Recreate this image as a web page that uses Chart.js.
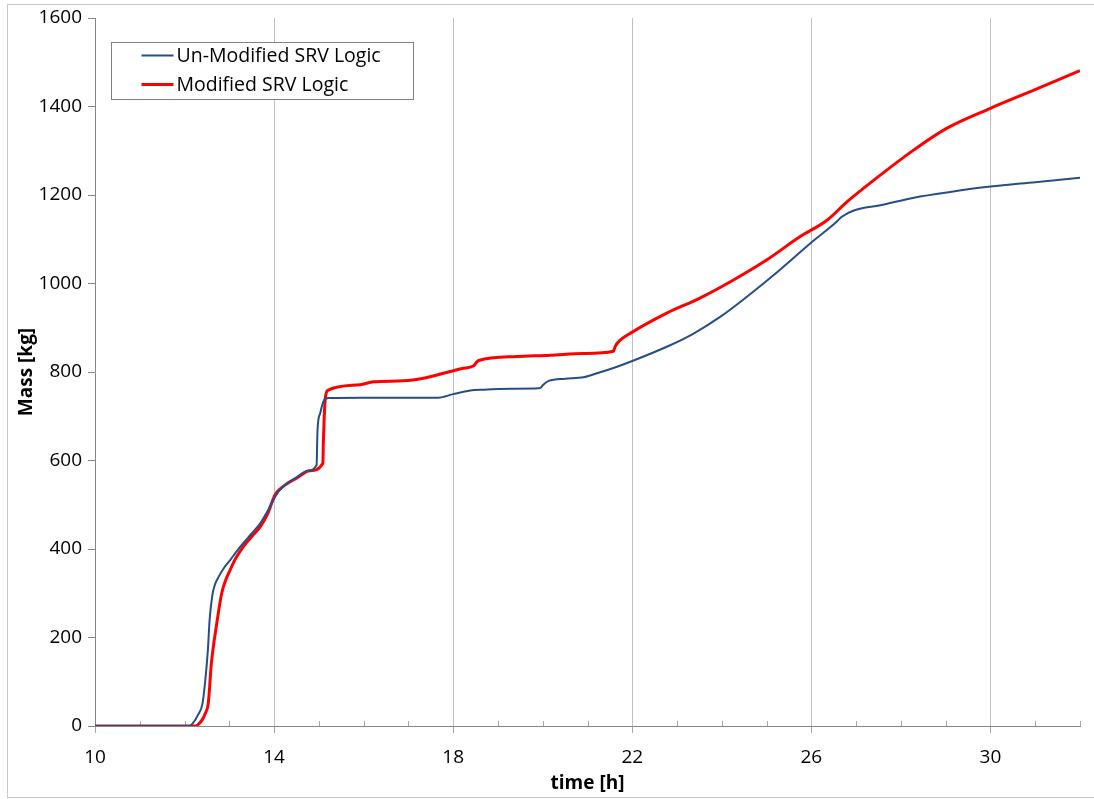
<!DOCTYPE html>
<html>
<head>
<meta charset="utf-8">
<script src="https://cdn.jsdelivr.net/npm/chart.js@4/dist/chart.umd.min.js"></script>
<style>
  html, body { margin: 0; padding: 0; background: #fff; }
  canvas { display: block; }
</style>
</head>
<body>
<canvas id="massChart" width="1094" height="799"></canvas>
<script>
(function(){
    'use strict';
// -------- data --------
    const seriesNames = ['Un-Modified SRV Logic', 'Modified SRV Logic'];

    const timeUnmod = [10, 12.1, 12.2, 12.3, 12.4, 12.46, 12.52, 12.56, 12.62, 12.68, 12.76, 12.88, 13.02, 13.15, 13.31,
        13.5, 13.69, 13.85, 13.98, 14.1, 14.28, 14.5, 14.75, 14.95, 14.96, 14.97, 15.03, 15.1, 15.21, 16, 17, 17.67,
        18.0, 18.38, 18.68, 19.3, 19.91, 19.96, 20.0, 20.13, 20.5, 20.91, 21.21, 21.66, 22.03, 22.77, 23.37, 23.97,
        24.56, 25.16, 25.98, 26.57, 26.68, 26.95, 27.54, 28.29, 29.1, 30.0, 31.0, 32.0];
    const massUnmod = [0, 0, 8, 25, 50, 100, 170, 240, 295, 320, 337, 357, 375, 393, 413,
        435, 458, 485, 510, 530, 548, 562, 577, 590, 630, 669, 707, 733, 741, 742, 742, 742,
        750, 758, 760, 762, 763, 765, 770, 780, 785, 788, 797, 812, 826, 857, 887, 925,
        970, 1019, 1091, 1140, 1151, 1165, 1177, 1194, 1207, 1219, 1229, 1239];

    const timeMod = [10, 12.25, 12.32, 12.4, 12.47, 12.53, 12.6, 12.72, 12.83, 12.92, 13.02, 13.15, 13.31, 13.5,
        13.69, 13.85, 14.02, 14.15, 14.28, 14.5, 14.8, 15.09, 15.1, 15.12, 15.15, 15.21, 15.92, 16.22, 16.89, 17.34,
        17.93, 18.2, 18.46, 18.52, 18.57, 19.42, 20.17, 20.91, 21.58, 21.6, 21.62, 21.73, 21.98, 22.77, 23.51,
        24.26, 25.0, 25.75, 26.35, 26.8, 27.54, 28.29, 29.03, 30.0, 30.97, 32.0];
    const massMod = [0, 0, 5, 15, 30, 51, 142, 232, 300, 330, 353, 380, 405, 428,
        450, 478, 522, 537, 547, 560, 577, 594, 640, 700, 745, 759, 771, 778, 780, 786,
        801, 808, 814, 822, 826, 835, 838, 842, 847, 852, 858, 872, 889, 933, 967,
        1008, 1053, 1106, 1143, 1185, 1245, 1302, 1351, 1396, 1437, 1481];

    const xMin = 10, xMax = 32, xMajor = 4;
    const yMin = 0, yMax = 1600, yStep = 200;

    function toPoints(xs, ys){
        const pts = [];
        for(let i = 0; i < xs.length; i++){
            pts.push({x: xs[i], y: ys[i]});
        }
        return pts;
    }

    function isMajor(v){
        return Math.abs(((v - xMin) % xMajor)) < 1e-6;
    }

    const fontName = "'Open Sans', 'Noto Sans', sans-serif";

    // ---- outer frame + white bg
    const framePlugin = {
        id: 'frame',
        beforeDraw(chart){
            const c = chart.ctx;
            c.save();
            c.fillStyle = '#fff';
            c.fillRect(0, 0, chart.width, chart.height);
            c.strokeStyle = '#c8c8c8';
            c.lineWidth = 1;
            c.strokeRect(7.5, 4.5, chart.width + 10, chart.height - 6);
            c.restore();
        }
    };

    // ---- small upward ticks on the x axis (every hour)
    const minorTicks = {
        id: 'minorTicks',
        beforeDatasetsDraw(chart){
            const sx = chart.scales.x;
            const base = chart.chartArea.bottom;
            const c = chart.ctx;
            c.save();
            c.strokeStyle = '#a6a6a6';
            c.lineWidth = 1;
            c.beginPath();
            for(let v = xMin + 1; v <= xMax; v++){
                if(isMajor(v)) continue;
                const px = Math.round(sx.getPixelForValue(v)) + 0.5;
                c.moveTo(px, base);
                c.lineTo(px, base - 5);
            }
            c.stroke();
            c.restore();
        }
    };

    // ---- boxed legend like Excel
    const boxLegend = {
        id: 'boxLegend',
        afterDraw(chart){
            const c = chart.ctx;
            const a = chart.chartArea;
            const bx = a.left + 16.5, by = a.top + 24.5, bw = 302, bh = 57;
            c.save();
            c.fillStyle = '#fff';
            c.fillRect(bx, by, bw, bh);
            c.strokeStyle = '#808080';
            c.lineWidth = 1;
            c.strokeRect(bx, by, bw, bh);
            c.font = '19.5px ' + fontName;
            c.textBaseline = 'middle';
            chart.data.datasets.forEach(function(ds, i){
                const ly = by + 13 + i * 29;
                c.strokeStyle = ds.borderColor;
                c.lineWidth = ds.borderWidth;
                c.beginPath();
                c.moveTo(bx + 30, ly);
                c.lineTo(bx + 62, ly);
                c.stroke();
                c.fillStyle = '#000';
                c.fillText(ds.label, bx + 65, ly + 1);
            });
            c.restore();
        }
    };

    new Chart('massChart', {
        type: 'line',
        data: {
            datasets: [{
                label: seriesNames[0],
                data: toPoints(timeUnmod, massUnmod),
                borderColor: '#264E86',
                borderWidth: 2,
                pointRadius: 0,
                fill: false,
                cubicInterpolationMode: 'monotone',
                borderJoinStyle: 'round'
            }, {
                label: seriesNames[1],
                data: toPoints(timeMod, massMod),
                borderColor: '#FF0000',
                borderWidth: 3,
                pointRadius: 0,
                fill: false,
                cubicInterpolationMode: 'monotone',
                borderJoinStyle: 'round'
            }]
        },
        options: {
            responsive: false,
            devicePixelRatio: 1,
            animation: false,
            layout: { padding: { top: 18, right: 14, left: 0, bottom: 0 } },
            plugins: {
                legend: { display: false },
                tooltip: { enabled: false }
            },
            scales: {
                x: {
                    type: 'linear',
                    min: xMin,
                    max: xMax,
                    afterFit: function(s){ s.height = 73; },
                    border: { color: '#868686', width: 1 },
                    grid: {
                        color: function(ctx){
                            return (ctx.tick && isMajor(ctx.tick.value) && ctx.tick.value !== xMin) ? '#c0c0c0' : 'rgba(0,0,0,0)';
                        },
                        tickColor: function(ctx){
                            return (ctx.tick && isMajor(ctx.tick.value)) ? '#a6a6a6' : 'rgba(0,0,0,0)';
                        },
                        tickLength: 7,
                        lineWidth: 1
                    },
                    ticks: {
                        stepSize: 1,
                        autoSkip: false,
                        maxRotation: 0,
                        padding: 13,
                        color: '#000',
                        font: { family: fontName, size: 19 },
                        callback: function(v){ return isMajor(v) && v < xMax ? String(v) : ''; }
                    },
                    title: {
                        display: true,
                        text: 'time [h]',
                        color: '#000',
                        font: { family: fontName, size: 19, weight: 'bold' },
                        padding: { top: 0, bottom: 4 }
                    }
                },
                y: {
                    min: yMin,
                    max: yMax,
                    afterFit: function(s){ s.width = 95; },
                    border: { color: '#868686', width: 1 },
                    grid: {
                        drawOnChartArea: false,
                        tickColor: '#868686',
                        tickLength: 7
                    },
                    ticks: {
                        stepSize: yStep,
                        padding: 6,
                        color: '#000',
                        font: { family: fontName, size: 19 },
                        callback: function(v){ return String(v); }
                    },
                    title: {
                        display: true,
                        text: 'Mass [kg]',
                        color: '#000',
                        font: { family: fontName, size: 19, weight: 'bold' },
                        padding: { top: 15, bottom: 0 }
                    }
                }
            }
        },
        plugins: [framePlugin, minorTicks, boxLegend]
    });
}());
</script>
</body>
</html>
